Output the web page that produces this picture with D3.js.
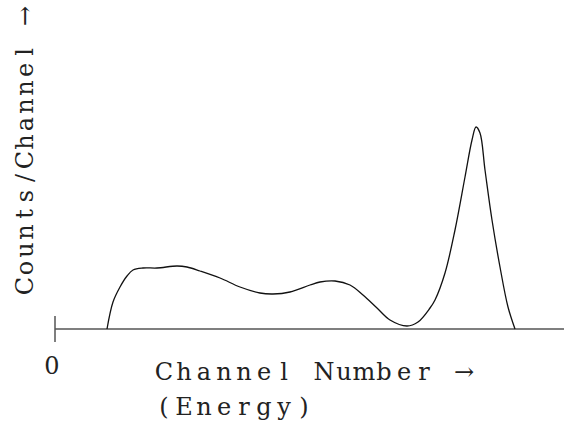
<!DOCTYPE html>
<html><head><meta charset="utf-8">
<script src="https://cdn.jsdelivr.net/npm/d3@7"></script>
<style>body{margin:0;background:#fff}svg{display:block}text{font-family:"DejaVu Serif",serif;fill:#222}</style>
</head><body><svg id="c" width="564" height="429"></svg>
<script>
const channels = [52,58,65,72,78,88,102,122,132,145,165,185,205,218,235,255,265,280,295,308,322,335,352,363,375,380,390,400,410,417,421,425,430,437,445,453,460];
const counts   = [0,27,42,53,59,61,61,63,62,58,51,42,36,35,37,44,47,48,44,34,21,9,3,7,21,29,56,99,152,189,202,196,159,109,62,22,0];
const xTickLabels = ["0"];
const xLabel = ["Channel Number \u2192", "(Energy)"];
const yLabel = "Counts/Channel \u2192";

const svg = d3.select("#c");
const x = d3.scaleLinear().domain([0, 509]).range([55, 564]);
const y = d3.scaleLinear().domain([0, 329]).range([329, 0]);

// axis
svg.append("line").attr("x1", x(0)).attr("x2", x(509)).attr("y1", y(0)).attr("y2", y(0))
  .attr("stroke", "#555").attr("stroke-width", 1.5);
svg.append("line").attr("x1", x(0)).attr("x2", x(0)).attr("y1", y(0) - 13).attr("y2", y(0) + 13)
  .attr("stroke", "#555").attr("stroke-width", 1.5);

const data = channels.map((c, i) => [c, counts[i]]);
const line = d3.line().x(d => x(d[0])).y(d => y(d[1])).curve(d3.curveCatmullRom.alpha(0.5));
svg.append("path").datum(data).attr("d", line).attr("fill", "none").attr("stroke", "#111").attr("stroke-width", 1.3);

svg.append("text").attr("x", 52).attr("y", 374).attr("text-anchor", "middle")
  .attr("font-size", 24).attr("font-weight", 300).text(xTickLabels[0]);

// monospaced look: one text element per line, per-character x positions
function mono(sel, str, x0, pitch) {
  const chars = Array.from(str);
  sel.attr("x", chars.map((c, i) => x0 + i * pitch).join(" ")).attr("text-anchor", "middle").text(str);
}
xLabel.forEach((t, i) => {
  const el = svg.append("text").attr("y", 380 + i * 35).attr("font-size", 24);
  mono(el, t, 164, 20);
});

const yl = svg.append("text").attr("transform", "rotate(-90)").attr("y", 33).attr("font-size", 24);
mono(yl, yLabel, -286, 18);
</script></body></html>
